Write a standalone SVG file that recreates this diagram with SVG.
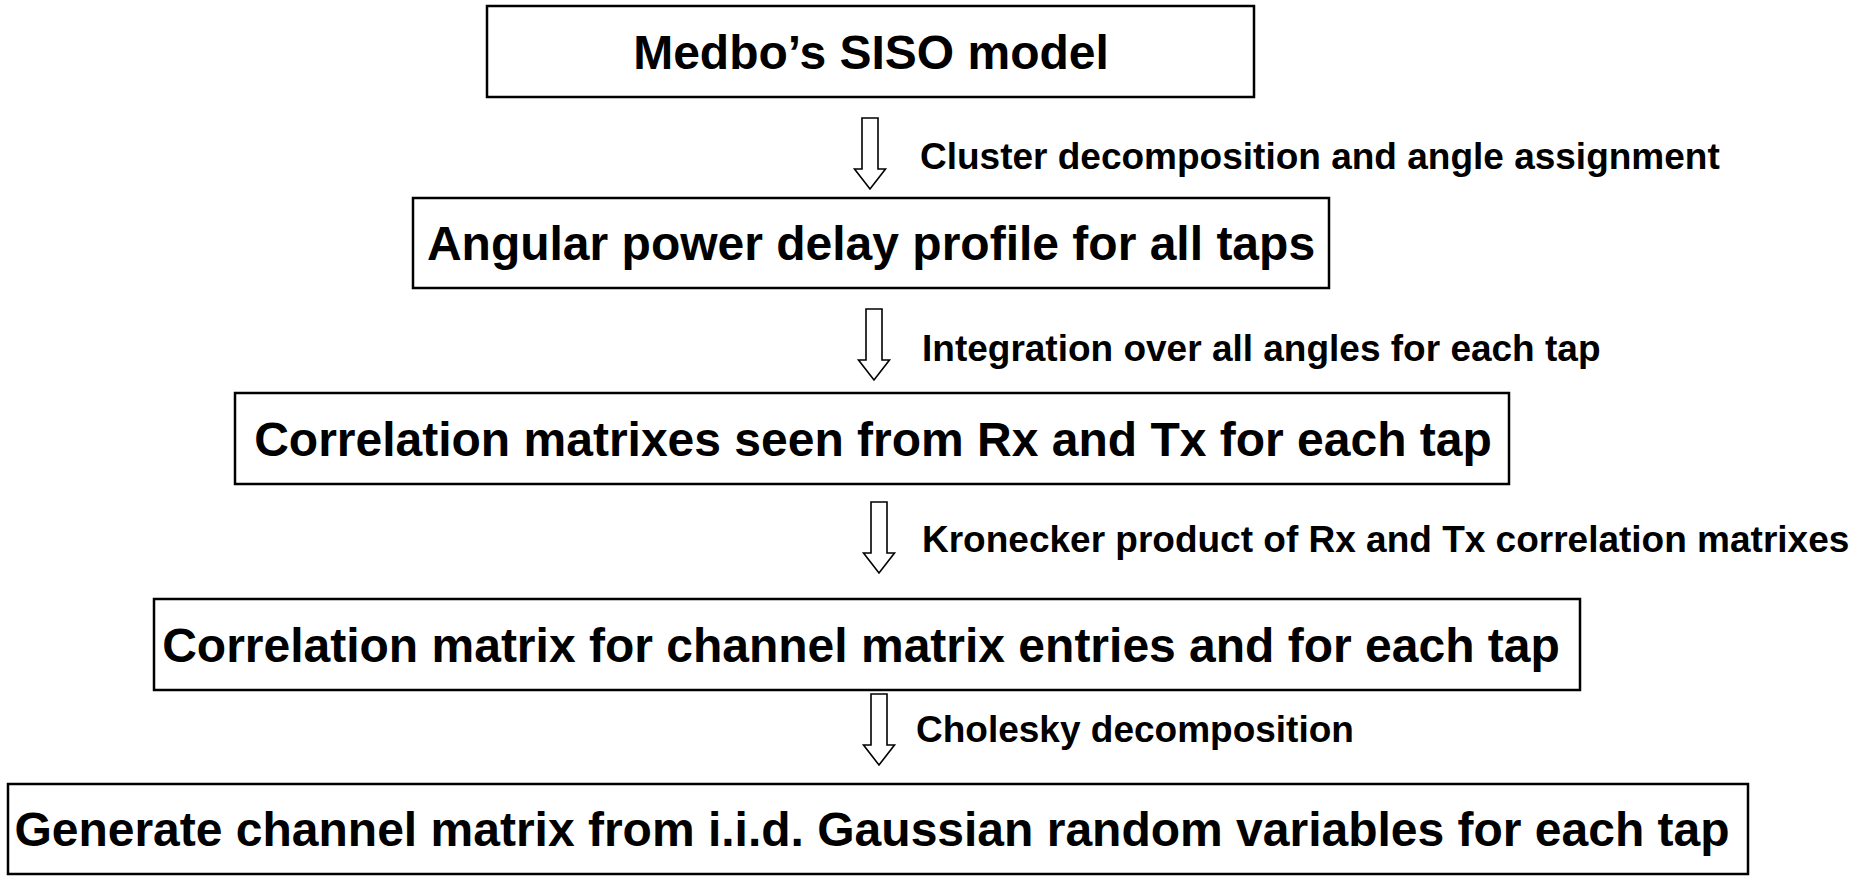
<svg xmlns="http://www.w3.org/2000/svg" width="1859" height="876" viewBox="0 0 1859 876">
  <style>
    .box { fill: #ffffff; stroke: #000000; stroke-width: 2.5; }
    .title { font-family: "Liberation Sans", Arial, sans-serif; font-weight: bold; font-size: 48px; fill: #000000; text-anchor: middle; }
    .label { font-family: "Liberation Sans", Arial, sans-serif; font-weight: bold; font-size: 37px; fill: #000000; }
    .arrow { fill: #ffffff; stroke: #000000; stroke-width: 1.6; stroke-linejoin: miter; }
  </style>
  <defs>
    <!-- hollow block arrow pointing down, origin at the top centre of the shaft -->
    <path id="downArrow" d="M -8 0 L 8 0 L 8 51 L 15.5 51 L 0 71 L -15.5 51 L -8 51 Z"/>
  </defs>
  <rect width="1859" height="876" fill="#ffffff"/>

  <g id="node-siso">
    <rect class="box" x="487" y="6" width="767" height="91"/>
    <text class="title" x="871" y="69">Medbo’s SISO model</text>
  </g>

  <g id="node-apdp">
    <rect class="box" x="413" y="198" width="916" height="90"/>
    <text class="title" x="871" y="260">Angular power delay profile for all taps</text>
  </g>

  <g id="node-rxtx">
    <rect class="box" x="235" y="393" width="1274" height="91"/>
    <text class="title" x="873" y="456">Correlation matrixes seen from Rx and Tx for each tap</text>
  </g>

  <g id="node-entries">
    <rect class="box" x="154" y="599" width="1426" height="91"/>
    <text class="title" x="861" y="662">Correlation matrix for channel matrix entries and for each tap</text>
  </g>

  <g id="node-generate">
    <rect class="box" x="8" y="784" width="1740" height="90"/>
    <text class="title" x="872" y="846">Generate channel matrix from i.i.d. Gaussian random variables for each tap</text>
  </g>

  <g id="connectors">
    <use href="#downArrow" class="arrow" x="870" y="118"/>
    <text class="label" x="920" y="169">Cluster decomposition and angle assignment</text>

    <use href="#downArrow" class="arrow" x="874" y="309"/>
    <text class="label" x="922" y="361">Integration over all angles for each tap</text>

    <use href="#downArrow" class="arrow" x="879" y="502"/>
    <text class="label" x="922" y="552">Kronecker product of Rx and Tx correlation matrixes</text>

    <use href="#downArrow" class="arrow" x="879" y="694"/>
    <text class="label" x="916" y="742">Cholesky decomposition</text>
  </g>
</svg>
